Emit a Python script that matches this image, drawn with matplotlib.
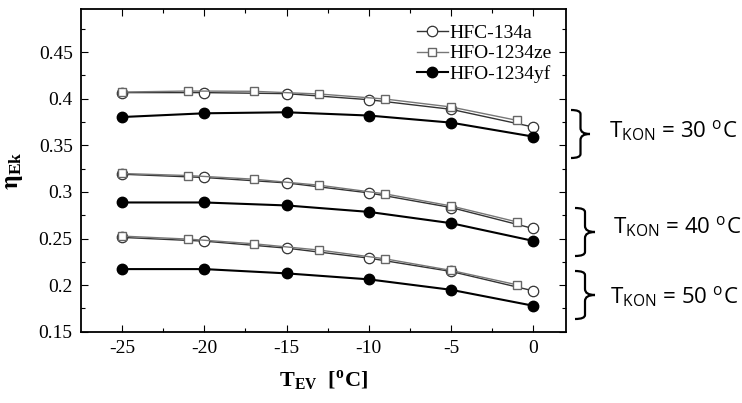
import numpy as np
import matplotlib.pyplot as plt
from matplotlib.path import Path
from matplotlib.patches import PathPatch

# evaporation temperatures [C]
t_circ = [-25, -20, -15, -10, -5, 0]
t_sq = [-25, -21, -17, -13, -9, -5, -1]

# eta_Ek per condensation temperature (30, 40, 50 C)
hfc134a = {
    30: [0.4066, 0.4066, 0.4055, 0.3990, 0.3887, 0.3697],
    40: [0.3190, 0.3155, 0.3097, 0.2990, 0.2833, 0.2608],
    50: [0.2512, 0.2472, 0.2397, 0.2290, 0.2147, 0.1939],
}
hfo1234ze = {
    30: [0.4072, 0.4083, 0.4080, 0.4051, 0.3997, 0.3912, 0.3769],
    40: [0.3198, 0.3176, 0.3137, 0.3072, 0.2979, 0.2850, 0.2679],
    50: [0.2526, 0.2494, 0.2444, 0.2376, 0.2282, 0.2158, 0.2004],
}
hfo1234yf = {
    30: [0.3804, 0.3844, 0.3855, 0.3820, 0.3744, 0.3594],
    40: [0.2887, 0.2887, 0.2855, 0.2786, 0.2665, 0.2475],
    50: [0.2172, 0.2172, 0.2126, 0.2062, 0.1950, 0.1779],
}
t_kon = [30, 40, 50]

plt.rcParams['axes.unicode_minus'] = False
plt.rcParams['mathtext.fontset'] = 'stix'
serif = ['Liberation Serif', 'DejaVu Serif']
sans = ['Open Sans', 'DejaVu Sans']

fig = plt.figure(figsize=(7.42, 4.03), dpi=100)
ax = fig.add_axes([0.1092, 0.1769, 0.6536, 0.8000])

for i, tk in enumerate(t_kon):
    ax.plot(t_sq, hfo1234ze[tk], color='#777777', lw=1.0, marker='s', ms=6,
            mfc='white', mec='#666666', mew=1.0, zorder=3,
            label='HFO-1234ze' if i == 0 else None)
    ax.plot(t_circ, hfc134a[tk], color='#333333', lw=1.0, marker='o', ms=7.5,
            mfc='white', mec='#333333', mew=0.9, zorder=2,
            label='HFC-134a' if i == 0 else None)
    ax.plot(t_circ, hfo1234yf[tk], color='black', lw=1.5, marker='o', ms=7.5,
            mfc='black', mec='black', zorder=4,
            label='HFO-1234yf' if i == 0 else None)

ax.set_xlim(-27.5, 2)
ax.set_ylim(0.15, 0.496)
ax.set_xticks([-25, -20, -15, -10, -5, 0])
ax.set_xticks(np.arange(-22.5, 0, 5), minor=True)
ax.set_yticks([0.15, 0.2, 0.25, 0.3, 0.35, 0.4, 0.45])
ax.set_yticklabels(['0.15', '0.2', '0.25', '0.3', '0.35', '0.4', '0.45'])
ax.set_yticks(np.arange(0.175, 0.49, 0.05), minor=True)
ax.tick_params(which='both', direction='in', top=True, right=True)
ax.tick_params(which='major', length=5, width=0.8, labelsize=14, pad=6)
ax.tick_params(which='minor', length=3, width=0.8)
for lab in ax.get_xticklabels() + ax.get_yticklabels():
    lab.set_family(serif)
for sp in ax.spines.values():
    sp.set_linewidth(1.3)

h, l = ax.get_legend_handles_labels()
order = [1, 0, 2]
ax.legend([h[k] for k in order], [l[k] for k in order], loc='upper right',
          frameon=False, prop={'family': serif, 'size': 14},
          handlelength=1.6, handletextpad=0.1, labelspacing=0.15,
          borderaxespad=0.2, bbox_to_anchor=(0.995, 0.99))

ax.set_xlabel(r'T$_{\mathregular{EV}}$  [$^{\mathregular{o}}$C]', fontsize=16,
              fontweight='bold', family=serif, labelpad=8)
ax.set_ylabel(r'$\mathbf{\eta}_{\mathregular{Ek}}$', fontsize=18,
              fontweight='bold', family=serif, labelpad=10)


def brace(x0, x1, ytop, ybot):
    # curly brace in figure pixels, opening to the left
    W, H = 742.0, 403.0
    ym = (ytop + ybot) / 2
    xm = (x0 + x1) / 2
    pts = [(x0, ytop), (xm, ytop), (xm, ytop + 4), (xm, ym - 6),
           (xm, ym), (x1, ym), (x1, ym),
           (xm, ym), (xm, ym + 6), (xm, ybot - 4),
           (xm, ybot), (x0, ybot), (x0, ybot)]
    codes = [Path.MOVETO, Path.CURVE3, Path.CURVE3, Path.LINETO,
             Path.CURVE3, Path.CURVE3, Path.MOVETO,
             Path.CURVE3, Path.CURVE3, Path.LINETO,
             Path.CURVE3, Path.CURVE3, Path.LINETO]
    v = [(x / W, 1 - y / H) for x, y in pts]
    fig.patches.append(PathPatch(Path(v, codes), transform=fig.transFigure,
                                 fill=False, lw=1.6, color='black'))


brace(571, 590, 110, 158)
brace(575, 595, 208, 256)
brace(575, 595, 271, 319)

for tk, (x, y) in zip(t_kon, [(609, 137), (613, 233), (610, 303)]):
    fig.text(x / 742, 1 - y / 403,
             r'T$_{\mathregular{KON}}$ = %d $^{\mathregular{o}}$C' % tk,
             fontsize=16, family=sans, va='baseline', ha='left')

fig.savefig('out.png', dpi=100)
